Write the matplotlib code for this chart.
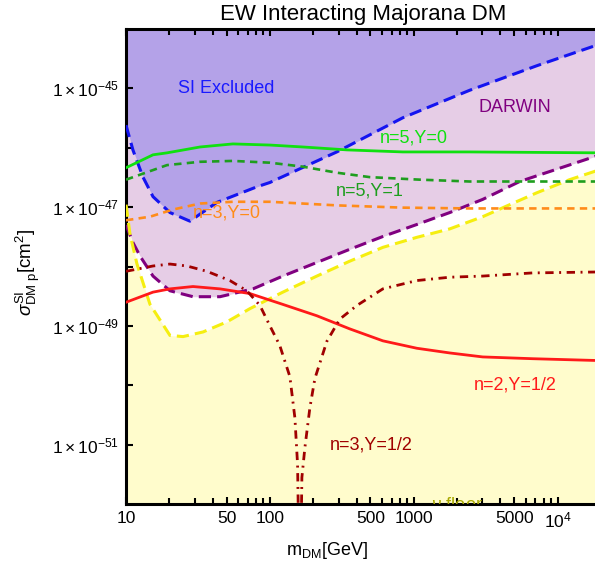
import numpy as np
import matplotlib
matplotlib.use('Agg')
import matplotlib.pyplot as plt

plt.rcParams['font.family'] = ['Liberation Sans', 'DejaVu Sans']
plt.rcParams['mathtext.fontset'] = 'custom'
plt.rcParams['mathtext.rm'] = 'Liberation Sans'
plt.rcParams['mathtext.it'] = 'Liberation Sans:italic'
plt.rcParams['mathtext.bf'] = 'Liberation Sans:bold'

# SI direct detection limit (blue) and DARWIN projection (purple)
m_si = [10, 11.18, 13.12, 15.4, 20.2, 27.8, 42.8, 81.3, 100, 291.6, 839, 2449, 7145, 18070, 20000]
sig_si = [2.4e-46, 9.1e-47, 3.2e-47, 1.5e-47, 8.1e-48, 5.8e-48, 1.2e-47, 2.2e-47, 2.6e-47,
          8.5e-47, 3.2e-46, 9.3e-46, 2.4e-45, 5.2e-45, 5.6e-45]

m_darwin = [10, 11.2, 12.51, 15.4, 20.2, 29.2, 45, 76.2, 123, 212, 359, 609.5, 1050, 1778, 3013,
            5445, 18070, 20000]
sig_darwin = [5.0e-48, 2.5e-48, 1.5e-48, 6.9e-49, 3.9e-49, 3.1e-49, 3.1e-49, 4.2e-49, 6.9e-49,
              1.17e-48, 1.95e-48, 3.2e-48, 5.1e-48, 8.1e-48, 1.35e-47, 2.7e-47, 7.1e-47, 7.6e-47]

# neutrino floor (yellow)
m_nu = [10, 10.66, 11.92, 14.68, 20.2, 24.9, 34.3, 50.3, 72.6, 123, 212, 359, 609.5, 1050,
        1778, 3013, 4642, 7145, 12110, 18070, 20000]
sig_nu = [1.1e-47, 3.5e-48, 1.1e-48, 2.3e-49, 6.9e-50, 6.6e-50, 7.9e-50, 1.17e-49, 1.95e-49,
          3.7e-49, 6.9e-49, 1.23e-48, 2.1e-48, 3.1e-48, 4.3e-48, 6.9e-48, 1.1e-47, 1.74e-47,
          2.9e-47, 4.0e-47, 4.3e-47]

# n=5, Y=0 (solid green)
m_50 = [10, 15.4, 19.27, 32.7, 55.3, 100, 169.4, 343, 839, 2449, 20000]
sig_50 = [4.6e-47, 7.6e-47, 8.2e-47, 1.03e-46, 1.16e-46, 1.11e-46, 1.03e-46, 9.2e-47, 8.5e-47,
          8.5e-47, 8.2e-47]

# n=5, Y=1 (dashed green)
m_51 = [10, 19.27, 32.7, 55.3, 100, 169.4, 291.6, 494, 1101, 2449, 7145, 20000]
sig_51 = [2.9e-47, 5.1e-47, 5.8e-47, 6.0e-47, 5.6e-47, 4.8e-47, 3.8e-47, 3.2e-47, 2.9e-47,
          2.7e-47, 2.7e-47, 2.7e-47]

# n=3, Y=0 (dashed orange)
m_30 = [10, 14.68, 21.2, 32.7, 55.3, 100, 291.6, 839, 2449, 20000]
sig_30 = [6.0e-48, 6.9e-48, 9.1e-48, 1.15e-47, 1.23e-47, 1.23e-47, 1.07e-47, 9.8e-48, 9.5e-48,
          9.5e-48]

# n=2, Y=1/2 (solid red)
m_2h = [10, 15.4, 20.2, 29.2, 45, 72.6, 123, 212, 359, 609.5, 1050, 1778, 3013, 6699, 20000]
sig_2h = [2.5e-49, 3.7e-49, 4.2e-49, 4.6e-49, 4.2e-49, 3.5e-49, 2.3e-49, 1.48e-49, 8.9e-50,
          5.6e-50, 4.2e-50, 3.5e-50, 3.0e-50, 2.8e-50, 2.6e-50]

# n=3, Y=1/2 (dash-dot dark red), blind spot near 160 GeV
m_3h = [10, 15.4, 20.2, 26.5, 36.5, 52.7, 69.2, 85.3, 100, 117, 137.6, 149.2, 155.7, 161.6,
        166.8, 175, 189.6, 205.4, 248.8, 306, 401.5, 609.5, 1050, 1778, 3013, 6699, 20000]
sig_3h = [8.3e-49, 1.02e-48, 1.1e-48, 1.02e-48, 8.3e-49, 5.8e-49, 3.9e-49, 2.2e-49, 1.0e-49,
          4.7e-50, 1.4e-50, 2.8e-51, 4.6e-52, 1e-54, 2.8e-52, 8.9e-52, 4.2e-51, 1.3e-50,
          5.5e-50, 1.3e-49, 2.2e-49, 4.2e-49, 5.8e-49, 6.6e-49, 6.9e-49, 7.8e-49, 8.1e-49]

YTOP, YBOT = 1e-44, 1e-52

fig = plt.figure(figsize=(5.95, 5.66), dpi=100)
ax = fig.add_axes([0.2118, 0.1095, 0.7983, 0.8393])
ax.set_xscale('log')
ax.set_yscale('log')
ax.set_xlim(10, 2e4)
ax.set_ylim(YBOT, YTOP)

# shaded regions
ax.fill_between(m_darwin, sig_darwin, YTOP, color='#e6cde6', lw=0, zorder=1)
ax.fill_between(m_si, sig_si, YTOP, color='#b4a2e8', lw=0, zorder=1.2)
ax.fill_between(m_nu, YBOT, sig_nu, color='#fffccc', lw=0, zorder=1.1)

# boundaries
ax.plot(m_si, sig_si, color='#1414f0', lw=2.2, ls=(0, (4, 2)), zorder=3)
ax.plot(m_darwin, sig_darwin, color='#800080', lw=2.2, ls=(0, (4, 2)), zorder=3)
ax.plot(m_nu, sig_nu, color='#f5ee10', lw=2.2, ls=(0, (4, 2)), zorder=3)

# model predictions
ax.plot(m_50, sig_50, color='#10e010', lw=2.0, zorder=4)
ax.plot(m_51, sig_51, color='#1e9e1e', lw=1.9, ls=(0, (2.8, 2)), zorder=4)
ax.plot(m_30, sig_30, color='#ff8c1a', lw=1.9, ls=(0, (2.8, 2)), zorder=4)
ax.plot(m_2h, sig_2h, color='#ff1a1a', lw=2.0, zorder=4)
ax.plot(m_3h, sig_3h, color='#a00000', lw=2.0, ls=(0, (3, 2, 0.7, 2)), zorder=4)

# labels inside plot
ax.text(49.5, 1.0e-45, 'SI Excluded', color='#1a1aff', fontsize=13, ha='center', va='center', zorder=5)
ax.text(5024, 4.8e-46, 'DARWIN', color='#800080', fontsize=13, ha='center', va='center', zorder=5)
ax.text(1000, 1.46e-46, 'n=5,Y=0', color='#10e010', fontsize=13, ha='center', va='center', zorder=5)
ax.text(494, 1.9e-47, 'n=5,Y=1', color='#1e9e1e', fontsize=13, ha='center', va='center', zorder=5)
ax.text(50.3, 8.1e-48, 'n=3,Y=0', color='#ff8c1a', fontsize=13, ha='center', va='center', zorder=5)
ax.text(5105, 1.0e-50, 'n=2,Y=1/2', color='#ff1a1a', fontsize=13, ha='center', va='center', zorder=5)
ax.text(502, 1.0e-51, 'n=3,Y=1/2', color='#a00000', fontsize=13, ha='center', va='center', zorder=5)
ax.text(2000, 9.5e-53, r'$\nu$-floor', color='#a8a800', fontsize=13, ha='center', va='center',
        zorder=5, clip_on=True)

# axes styling
for s in ax.spines.values():
    s.set_linewidth(2.2)
ax.set_axisbelow(False)

ax.set_xticks([10, 50, 100, 500, 1000, 5000, 1e4])
ax.set_xticklabels(['10', '50', '100', '500', '1000', '5000', r'$10^4$'])
minor_x = [20, 30, 40, 60, 70, 80, 90, 200, 300, 400, 600, 700, 800, 900,
           2000, 3000, 4000, 6000, 7000, 8000, 9000, 2e4]
ax.set_xticks(minor_x, minor=True)
ax.xaxis.set_minor_formatter(matplotlib.ticker.NullFormatter())

ydec = [-51, -50, -49, -48, -47, -46, -45]
ax.set_yticks([10.0 ** d for d in ydec])
ax.set_yticklabels([r'$1\times10^{%d}$' % d if d % 2 else '' for d in ydec])
ax.yaxis.set_minor_locator(matplotlib.ticker.NullLocator())

ax.tick_params(which='both', direction='in', top=True, right=False, length=4, width=1.5,
               labelsize=12.5, pad=5)
ax.tick_params(which='major', length=5)

fig.text(0.611, 0.975, 'EW Interacting Majorana DM', fontsize=16, ha='center', va='center')
fig.text(0.55, 0.028, r'$\mathrm{m_{DM}[GeV]}$', fontsize=13, ha='center', va='center')
fig.text(0.047, 0.519, r'$\sigma^{\mathrm{SI}}_{\mathrm{DM\ p}}\mathrm{[cm^2]}$', fontsize=13.5,
         ha='center', va='center', rotation=90)

fig.savefig('out.png', dpi=100)
